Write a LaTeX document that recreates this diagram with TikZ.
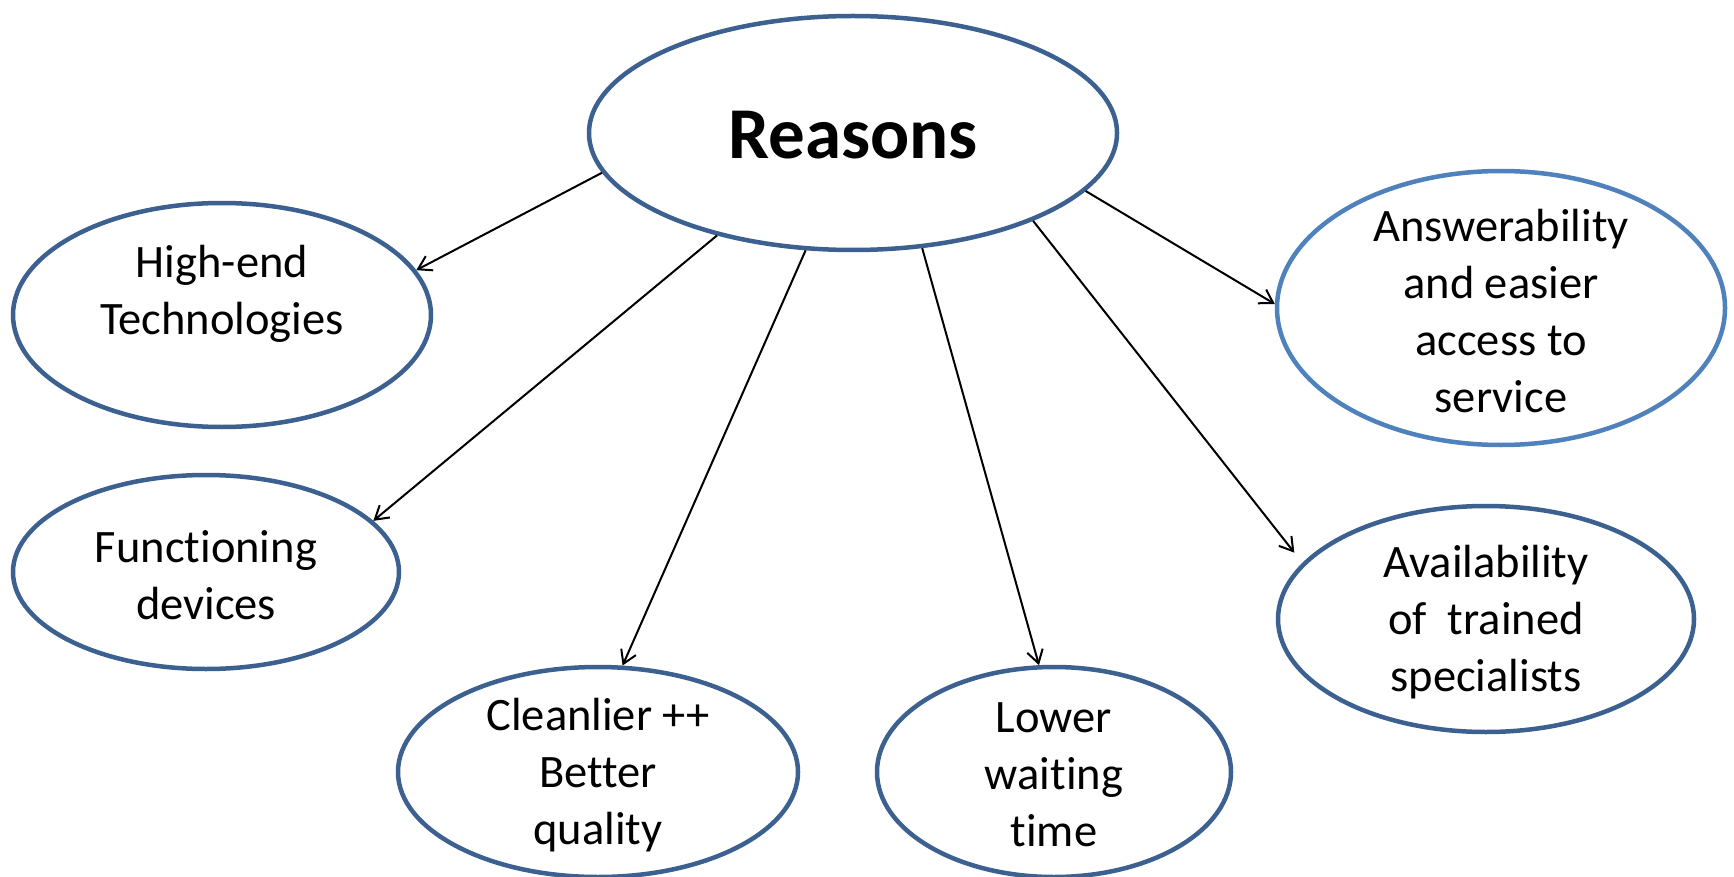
\documentclass[tikz,border=0pt]{standalone}
\usepackage{fontspec}
\setmainfont{Carlito}[Ligatures=CommonOff]
\usetikzlibrary{arrows.meta,shapes.geometric}
\definecolor{ringdark}{HTML}{3C6090}
\definecolor{ringlight}{HTML}{4F81BD}
\tikzset{
  oval/.style={ellipse, draw=ringdark, line width=4.5pt, fill=white, inner sep=0pt},
  ovallight/.style={oval, draw=ringlight},
  txt/.style={align=center, font=\fontsize{46.5}{57}\selectfont, inner sep=0pt, yshift=-3pt},
  conn/.style={line width=2pt, -{Straight Barb[length=13pt,width=16pt,line width=2pt]}}
}
\begin{document}
\begin{tikzpicture}[x=1pt,y=-1pt]
\useasboundingbox (0,0) rectangle (1734,877);
\node[oval, minimum width=528pt, minimum height=234pt,
  label={[inner sep=0pt,yshift=-2pt,font=\fontsize{73}{88}\bfseries\selectfont]center:Reasons}] (R) at (853,133) {};
\node[oval, minimum width=418pt, minimum height=224pt,
  label={[txt]center:High-end\\Technologies\\~}] (H) at (222,315) {};
\node[oval, minimum width=386pt, minimum height=194pt,
  label={[txt]center:Functioning\\devices}] (F) at (206,572) {};
\node[oval, minimum width=400pt, minimum height=210pt,
  label={[txt]center:Cleanlier ++\\Better\\quality}] (C) at (598,772) {};
\node[oval, minimum width=354pt, minimum height=210pt,
  label={[txt]center:Lower\\waiting\\time}] (L) at (1054,772) {};
\node[oval, minimum width=416pt, minimum height=226pt,
  label={[txt]center:Availability\\of\ \ trained\\specialists}] (Av) at (1486,619) {};
\node[ovallight, minimum width=448pt, minimum height=274pt,
  label={[txt]center:Answerability\\and easier\\access to\\service}] (An) at (1501,308) {};
\draw[conn] (R.189.4) -- (H.13.8);
\draw[conn] (R.217.5) -- (F.17.4);
\draw[conn] (R.248.4) -- (C.77.1);
\draw[conn] (R.301.3) -- (L.98.7);
\draw[conn, shorten >=13pt] (R.334.9) -- (Av.163.4);
\draw[conn] (R.346.4) -- (An.179.5);
\end{tikzpicture}
\end{document}
